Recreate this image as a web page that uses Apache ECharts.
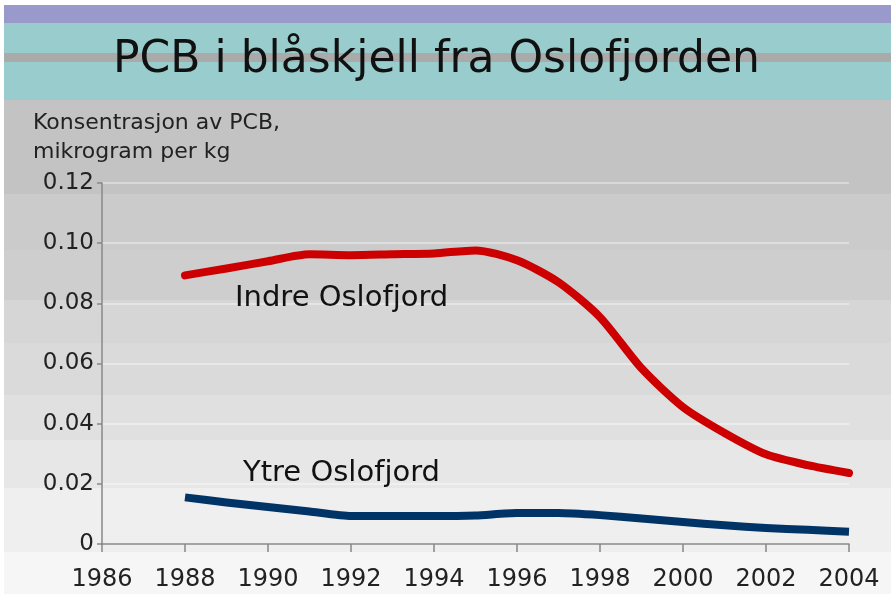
<!DOCTYPE html>
<html>
<head>
<meta charset="utf-8">
<script src="https://cdn.jsdelivr.net/npm/echarts@6/dist/echarts.min.js"></script>
<style>
  html, body { margin: 0; padding: 0; background: #fff; }
  #chart { width: 891px; height: 594px; }
</style>
</head>
<body>
<div id="chart"></div>
<script>
const years = [1988, 1989, 1990, 1991, 1992, 1993, 1994, 1995, 1996, 1997, 1998, 1999, 2000, 2001, 2002, 2003, 2004];
const indre = [0.0893, 0.0916, 0.094, 0.0963, 0.096, 0.0963, 0.0966, 0.0976, 0.0943, 0.087, 0.0754, 0.0584, 0.0455, 0.0369, 0.0298, 0.0262, 0.0236];
const ytre = [0.0155, 0.0138, 0.0123, 0.0108, 0.0093, 0.0093, 0.0093, 0.0095, 0.0103, 0.0103, 0.0096, 0.0085, 0.0073, 0.0062, 0.0053, 0.0047, 0.0041];
const yearTicks = [1986, 2004, 2];
const valueTicks = [0, 0.12, 0.02];

const font = '"DejaVu Sans", Verdana, sans-serif';

// background bands behind the plot (top -> bottom, darker -> lighter)
const bands = [
  [100, 194, '#c3c3c3'], [194, 250, '#cbcbcb'], [250, 300, '#cecece'],
  [300, 343, '#d6d6d6'], [343, 395, '#dadada'], [395, 440, '#e0e0e0'],
  [440, 488, '#e7e7e7'], [488, 552, '#efefef'], [552, 594, '#f6f6f6']
];

const chart = echarts.init(document.getElementById('chart'), null, { renderer: 'canvas' });

const graphics = [
  { type: 'rect', z: -10, shape: { x: 4, y: 5, width: 887, height: 18 }, style: { fill: '#9999cc' } },
  { type: 'rect', z: -10, shape: { x: 4, y: 23, width: 887, height: 77 }, style: { fill: '#99cccc' } },
  { type: 'rect', z: -9, shape: { x: 4, y: 53, width: 887, height: 9 }, style: { fill: '#aaaaaa' } },
  ...bands.map(b => ({ type: 'rect', z: -10, shape: { x: 4, y: b[0], width: 887, height: b[1] - b[0] }, style: { fill: b[2] } })),
  { type: 'text', left: 113, top: 39, z: 10,
    style: { text: 'PCB i blåskjell fra Oslofjorden', font: '44px ' + font, fill: '#111' } },
  { type: 'text', left: 33, top: 109, z: 10,
    style: { text: 'Konsentrasjon av PCB,\nmikrogram per kg', font: '22px ' + font, fill: '#222', lineHeight: 29 } },
  { type: 'text', left: 235, top: 284, z: 10,
    style: { text: 'Indre Oslofjord', font: '29px ' + font, fill: '#111' } },
  { type: 'text', left: 243, top: 459, z: 10,
    style: { text: 'Ytre Oslofjord', font: '29px ' + font, fill: '#111' } }
];

chart.setOption({
  animation: false,
  backgroundColor: '#ffffff',
  graphic: graphics,
  grid: { left: 102, right: 42, top: 183, bottom: 50 },
  xAxis: {
    type: 'value',
    min: yearTicks[0], max: yearTicks[1], interval: yearTicks[2],
    axisLine: { lineStyle: { color: '#888', width: 1.5 } },
    axisTick: { show: true, length: 8, lineStyle: { color: '#888', width: 1.5 } },
    axisLabel: { color: '#222', fontSize: 24, fontFamily: font, margin: 24, formatter: v => String(v) },
    splitLine: { show: false }
  },
  yAxis: {
    type: 'value',
    min: valueTicks[0], max: valueTicks[1], interval: valueTicks[2],
    axisLine: { show: true, lineStyle: { color: '#888', width: 1.5 } },
    axisTick: { show: true, length: 5, lineStyle: { color: '#888', width: 1.5 } },
    axisLabel: { color: '#222', fontSize: 23, fontFamily: font, margin: 8,
      formatter: v => v === 0 ? '0' : v.toFixed(2) },
    splitLine: { show: true, lineStyle: { color: 'rgba(255,255,255,0.5)', width: 1.5 } }
  },
  series: [
    {
      name: 'Indre Oslofjord', type: 'line', smooth: 0.25, symbol: 'none',
      data: years.map((y, i) => [y, indre[i]]),
      lineStyle: { color: '#cc0000', width: 8, cap: 'round', join: 'round' }
    },
    {
      name: 'Ytre Oslofjord', type: 'line', smooth: 0.2, symbol: 'none',
      data: years.map((y, i) => [y, ytre[i]]),
      lineStyle: { color: '#003366', width: 8, join: 'round' }
    }
  ]
});
</script>
</body>
</html>
